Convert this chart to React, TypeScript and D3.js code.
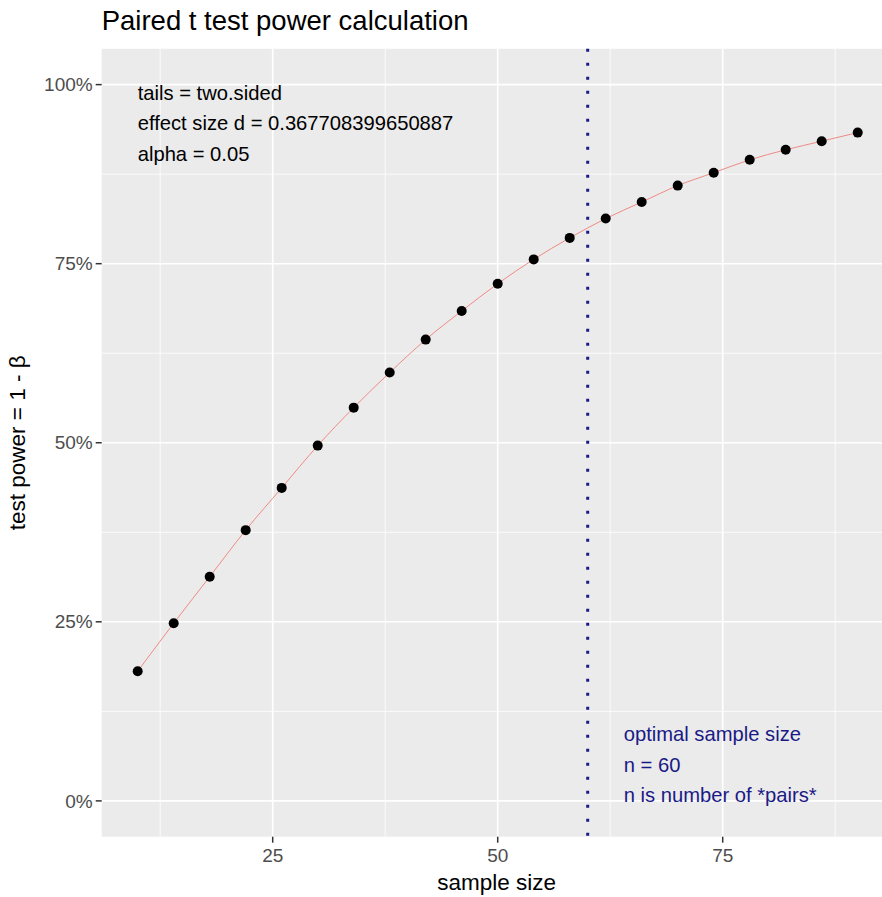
import React from 'react';
import * as d3 from 'd3';

// sample sizes and their power
const sampleSizes = [10, 14, 18, 22, 26, 30, 34, 38, 42, 46, 50, 54, 58, 62, 66, 70, 74, 78, 82, 86, 90];
const powerValues = [0.181, 0.248, 0.313, 0.378, 0.437, 0.496, 0.549, 0.598, 0.644, 0.684, 0.722, 0.756, 0.786, 0.813, 0.836, 0.859, 0.877, 0.895, 0.909, 0.921, 0.933];
const xTicks = [25, 50, 75];
const xMinor = [12.5, 37.5, 62.5, 87.5];
const yTicks = [0, 0.25, 0.5, 0.75, 1];
const yMinor = [0.125, 0.375, 0.625, 0.875];
const optimalN = 60;
const infoLines = ['tails = two.sided', 'effect size d = 0.367708399650887', 'alpha = 0.05'];
const optimalLines = ['optimal sample size', 'n = ' + optimalN, 'n is number of *pairs*'];

const W = 882;
const H = 897;
const left = 101.7;
const right = 893.7;
const top = 48.8;
const bottom = 836.7;
const font = 'Liberation Sans, Arial, sans-serif';

export default function App() {
  const x = d3.scaleLinear().domain([6, 94]).range([left, right]);
  const y = d3.scaleLinear().domain([-0.05, 1.05]).range([bottom, top]);
  const pts = sampleSizes.map((n, i) => [n, powerValues[i]] as [number, number]);
  const line = d3.line<[number, number]>()
    .x(d => x(d[0]))
    .y(d => y(d[1]))
    .curve(d3.curveMonotoneX);

  return (
    <svg width={W} height={H} style={{ position: 'absolute', left: 0, top: 0, fontFamily: font }}>
      <rect x={0} y={0} width={W} height={H} fill="#fff" />
      <text x={left} y={30} fontSize={27.5} fill="#000">Paired t test power calculation</text>
      <rect x={left} y={top} width={right - left} height={bottom - top} fill="#EBEBEB" />
      {yMinor.map(v => (
        <line key={'ym' + v} x1={left} x2={right} y1={y(v)} y2={y(v)} stroke="#fff" strokeWidth={0.8} />
      ))}
      {xMinor.map(v => (
        <line key={'xm' + v} x1={x(v)} x2={x(v)} y1={top} y2={bottom} stroke="#fff" strokeWidth={0.8} />
      ))}
      {yTicks.map(v => (
        <line key={'yg' + v} x1={left} x2={right} y1={y(v)} y2={y(v)} stroke="#fff" strokeWidth={1.6} />
      ))}
      {xTicks.map(v => (
        <line key={'xg' + v} x1={x(v)} x2={x(v)} y1={top} y2={bottom} stroke="#fff" strokeWidth={1.6} />
      ))}
      <path d={line(pts) || ''} fill="none" stroke="#F08A84" strokeWidth={1} />
      {pts.map(d => (
        <circle key={d[0]} cx={x(d[0])} cy={y(d[1])} r={5} fill="#000" />
      ))}
      <line x1={x(optimalN)} x2={x(optimalN)} y1={top} y2={bottom} stroke="#1A1A86"
        strokeWidth={3} strokeDasharray="3 11" />
      {infoLines.map((t, i) => (
        <text key={t} x={x(10)} y={99.5 + i * 30.5} fontSize={20.2} fill="#000">{t}</text>
      ))}
      {optimalLines.map((t, i) => (
        <text key={t} x={x(64)} y={741 + i * 30.5} fontSize={20.2} fill="#1A1A86">{t}</text>
      ))}
      {yTicks.map(v => (
        <g key={'yt' + v}>
          <line x1={left - 6} x2={left} y1={y(v)} y2={y(v)} stroke="#333" strokeWidth={1.5} />
          <text x={left - 9} y={y(v)} dy="0.35em" textAnchor="end" fontSize={19} fill="#4D4D4D">
            {d3.format('.0%')(v)}
          </text>
        </g>
      ))}
      {xTicks.map(v => (
        <g key={'xt' + v}>
          <line x1={x(v)} x2={x(v)} y1={bottom} y2={bottom + 6} stroke="#333" strokeWidth={1.5} />
          <text x={x(v)} y={862} textAnchor="middle" fontSize={19} fill="#4D4D4D">{v}</text>
        </g>
      ))}
      <text x={(left + right) / 2 - 1} y={890} textAnchor="middle" fontSize={22.5} fill="#000">sample size</text>
      <text transform={`translate(25,${(top + bottom) / 2}) rotate(-90)`} textAnchor="middle" fontSize={22.5} fill="#000">
        test power = 1 - β
      </text>
    </svg>
  );
}
